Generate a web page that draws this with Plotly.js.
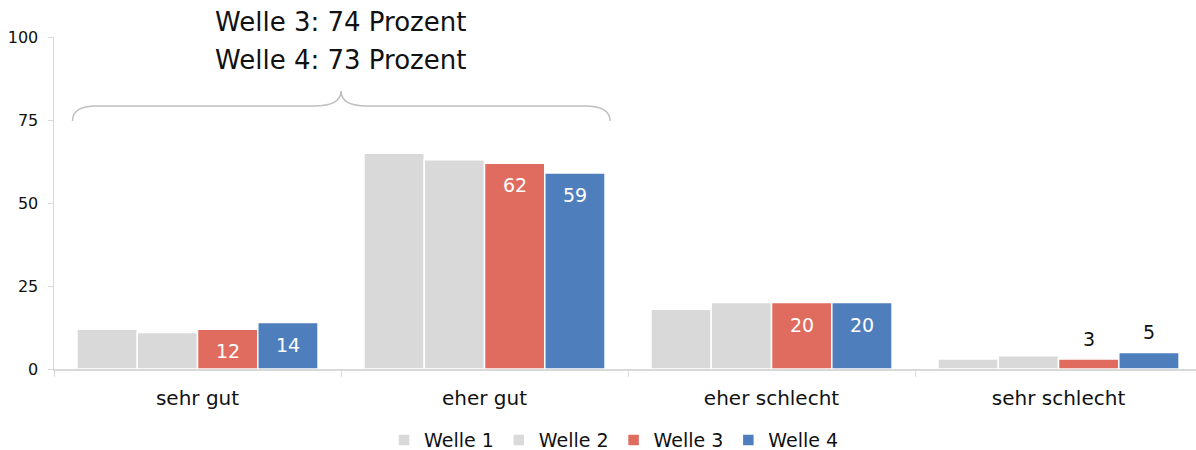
<!DOCTYPE html>
<html>
<head>
<meta charset="utf-8">
<script src="https://cdn.plot.ly/plotly-3.0.1.min.js"></script>
<style>html,body{margin:0;padding:0;background:#fff;}#chart{width:1196px;height:450px;}</style>
</head>
<body>
<div id="chart"></div>
<script>
const categories = ["sehr gut", "eher gut", "eher schlecht", "sehr schlecht"];
const seriesNames = ["Welle 1", "Welle 2", "Welle 3", "Welle 4"];
const welle1 = [12, 65, 18, 3];
const welle2 = [11, 63, 20, 4];
const welle3 = [12, 62, 20, 3];
const welle4 = [14, 59, 20, 5];
const labeledSeries = [2, 3];
const yTicks = [0, 25, 50, 75, 100];
const summaryLines = ["Welle 3: 74 Prozent", "Welle 4: 73 Prozent"];

const colors = ["#d9d9d9", "#d9d9d9", "#e06b5f", "#4f7ebd"];
const FONT = "DejaVu Sans, sans-serif";
const allSeries = [welle1, welle2, welle3, welle4];
const bargap = 0.16;

const traces = allSeries.map((vals, i) => ({
  type: "bar",
  name: seriesNames[i],
  x: categories,
  y: vals,
  marker: {color: colors[i], line: {color: "#ffffff", width: 1.5}},
  hoverinfo: "skip"
}));

const annotations = [];
const barW = (1 - bargap) / allSeries.length;
labeledSeries.forEach(si => {
  allSeries[si].forEach((v, ci) => {
    const inside = v >= 10;
    annotations.push({
      x: ci - (1 - bargap) / 2 + barW * (si + 0.5),
      y: v, xref: "x", yref: "y",
      text: String(v), showarrow: false,
      yanchor: "middle",
      yshift: inside ? -22 : 20,
      font: {family: FONT, size: 19, color: inside ? "#ffffff" : "#111111"}
    });
  });
});
summaryLines.forEach((t, i) => {
  annotations.push({
    x: 0.2513, xref: "paper", y: i === 0 ? 1.045 : 0.931, yref: "paper",
    text: t, showarrow: false, yanchor: "middle", xanchor: "center",
    font: {family: FONT, size: 26, color: "#111111"}
  });
});

const x0 = 0.0162, x1 = 0.0368, x2 = 0.2277, x3 = 0.2513, x4 = 0.2741, x5 = 0.465, x6 = 0.4869;
const y0 = 74.7, y1 = 79.2, yp = 83.7;
const bracePath = `M ${x0},${y0} Q ${x0},${y1} ${x1},${y1} L ${x2},${y1} Q ${x3},${y1} ${x3},${yp} Q ${x3},${y1} ${x4},${y1} L ${x5},${y1} Q ${x6},${y1} ${x6},${y0}`;

const layout = {
  width: 1196, height: 450,
  margin: {l: 54, r: 0, t: 37, b: 81, autoexpand: false},
  paper_bgcolor: "#ffffff", plot_bgcolor: "#ffffff",
  barmode: "group", bargap: bargap, bargroupgap: 0,
  font: {family: FONT, color: "#111111"},
  xaxis: {
    type: "category",
    range: [-0.5, 3.479],
    showline: true, linecolor: "#d9d9d9", linewidth: 1.5,
    ticks: "outside", tickson: "boundaries", ticklen: 6, tickcolor: "#d9d9d9",
    ticklabelstandoff: 10,
    showgrid: false, zeroline: false,
    tickfont: {family: FONT, size: 20, color: "#111111"}
  },
  yaxis: {
    range: [0, 100], tickvals: yTicks, ticktext: yTicks.map(String),
    showline: true, linecolor: "#d9d9d9", linewidth: 1.5,
    ticks: "outside", ticklen: 5, tickcolor: "#d9d9d9",
    ticklabelstandoff: 6,
    showgrid: false, zeroline: false,
    tickfont: {family: FONT, size: 16, color: "#111111"}
  },
  legend: {
    orientation: "h", x: 0.49, xanchor: "center",
    yref: "container", y: 0.022, yanchor: "middle",
    font: {family: FONT, size: 19, color: "#111111"},
    traceorder: "normal"
  },
  shapes: [{
    type: "path", xref: "paper", yref: "y", path: bracePath,
    line: {color: "#bfbfbf", width: 1.5}
  }],
  annotations: annotations,
  showlegend: true
};

Plotly.newPlot("chart", traces, layout, {displayModeBar: false, staticPlot: true});
</script>
</body>
</html>
